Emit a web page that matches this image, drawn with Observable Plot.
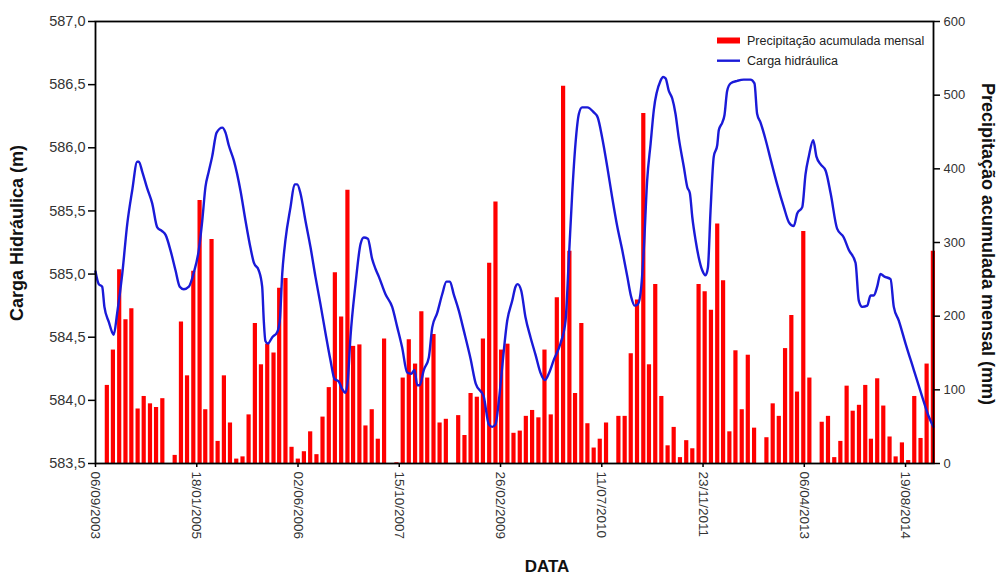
<!DOCTYPE html>
<html>
<head>
<meta charset="utf-8">
<script src="https://cdn.jsdelivr.net/npm/d3@7"></script>
<script src="https://cdn.jsdelivr.net/npm/@observablehq/plot@0.6"></script>
<style>
html,body{margin:0;padding:0;background:#fff;}
#chart{position:relative;width:997px;height:577px;}
#chart svg{position:absolute;left:0;top:0;}
</style>
</head>
<body>
<div id="chart"></div>
<script>
// ---------- DATA ----------
// Monthly accumulated precipitation (mm); first bar plotted at 2003-11-01, one per month
const precipFirstMonth = "2003-11-01";
const precipMm = [
  106,154,263,195,210,74,91,81,76,88,0,11,192,119,261,357,73,304,30,119,
  55,6,9,66,190,134,162,150,238,251,22,6,16,43,12,63,103,259,199,371,
  159,161,51,73,33,169,0,1,116,168,135,206,116,175,55,60,0,65,38,95,
  90,169,272,355,154,162,41,44,64,72,62,154,66,225,512,288,95,190,54,21,
  33,55,0,64,64,149,222,475,134,243,91,24,49,8,31,20,243,233,208,325,
  248,43,153,73,147,48,0,35,81,64,156,201,97,315,116,0,56,64,8,30,
  105,71,79,106,33,115,78,36,9,28,4,91,34,135,288
];

// Hydraulic head (m)
const headDates = [
  "2003-09-06","2003-09-22","2003-10-09","2003-10-20","2003-11-11","2003-11-27","2003-12-05","2003-12-22",
  "2004-01-16","2004-02-10","2004-03-05","2004-03-30","2004-04-07","2004-04-24","2004-05-18","2004-06-12",
  "2004-07-07","2004-07-31","2004-08-17","2004-09-10","2004-10-05","2004-10-26","2004-11-15","2004-12-10",
  "2005-01-03","2005-01-28","2005-02-14","2005-03-02","2005-03-18","2005-04-04","2005-04-26","2005-05-24",
  "2005-06-09","2005-06-25","2005-07-20","2005-08-22","2005-09-16","2005-10-10","2005-10-27","2005-11-20",
  "2005-12-07","2005-12-15","2005-12-23","2006-01-04","2006-01-26","2006-02-19","2006-03-04","2006-03-16",
  "2006-04-01","2006-04-26","2006-05-16","2006-05-29","2006-06-14","2006-07-09","2006-08-03","2006-08-27",
  "2006-09-21","2006-10-16","2006-11-09","2006-11-29","2006-12-20","2007-01-06","2007-01-22","2007-02-03",
  "2007-02-16","2007-03-13","2007-04-07","2007-04-23","2007-05-13","2007-06-03","2007-06-20","2007-07-06",
  "2007-08-08","2007-09-10","2007-10-05","2007-10-29","2007-11-23","2007-12-13","2007-12-29","2008-01-12",
  "2008-01-24","2008-02-13","2008-03-09","2008-03-26","2008-04-19","2008-05-14","2008-06-04","2008-06-21",
  "2008-07-10","2008-08-04","2008-08-29","2008-10-01","2008-10-27","2008-12-05","2008-12-30","2009-01-16",
  "2009-02-01","2009-02-18","2009-03-06","2009-03-31","2009-04-25","2009-05-11","2009-05-21","2009-06-08",
  "2009-06-29","2009-07-24","2009-08-18","2009-09-11","2009-10-03","2009-10-22","2009-11-16","2009-12-19",
  "2010-01-13","2010-01-29","2010-02-15","2010-03-03","2010-03-20","2010-04-05","2010-04-30","2010-06-02",
  "2010-06-21","2010-07-13","2010-08-07","2010-08-31","2010-09-25","2010-10-20","2010-11-14","2010-12-03",
  "2010-12-20","2011-01-05","2011-01-22","2011-02-04","2011-02-20","2011-03-09","2011-03-25","2011-04-27",
  "2011-05-10","2011-05-22","2011-06-07","2011-06-24","2011-07-10","2011-07-26","2011-08-20","2011-09-06",
  "2011-09-19","2011-10-01","2011-10-17","2011-11-02","2011-11-19","2011-12-05","2011-12-17","2011-12-30",
  "2012-01-15","2012-02-01","2012-02-09","2012-02-26","2012-03-08","2012-03-21","2012-04-07","2012-05-10",
  "2012-06-11","2012-07-14","2012-08-03","2012-08-16","2012-09-02","2012-09-26","2012-10-23","2012-11-23",
  "2012-12-26","2013-01-20","2013-02-13","2013-03-02","2013-03-27","2013-04-12","2013-04-28","2013-05-20",
  "2013-06-05","2013-06-25","2013-07-20","2013-08-14","2013-09-15","2013-10-18","2013-11-12","2013-12-15",
  "2013-12-31","2014-01-17","2014-02-11","2014-02-27","2014-03-15","2014-04-01","2014-04-17","2014-05-07",
  "2014-06-06","2014-06-22","2014-07-17","2014-08-19","2014-09-29","2014-11-09","2014-12-12","2015-01-04"
];
const headValues = [
  585.02,584.92,584.90,584.74,584.62,584.54,584.52,584.69,
  585.00,585.40,585.66,585.89,585.89,585.81,585.68,585.56,
  585.37,585.34,585.31,585.19,585.03,584.90,584.88,584.90,
  585.01,585.19,585.42,585.69,585.81,585.93,586.12,586.16,
  586.12,586.02,585.90,585.66,585.42,585.21,585.09,585.03,
  584.90,584.63,584.47,584.45,584.50,584.54,584.63,585.00,
  585.27,585.53,585.71,585.71,585.64,585.42,585.21,584.98,
  584.76,584.53,584.32,584.17,584.15,584.09,584.06,584.16,
  584.50,584.92,585.24,585.29,585.28,585.12,585.04,584.98,
  584.84,584.74,584.58,584.42,584.22,584.21,584.24,584.12,
  584.12,584.24,584.34,584.58,584.69,584.84,584.94,584.94,
  584.84,584.71,584.55,584.33,584.13,584.03,583.81,583.79,
  583.81,584.00,584.26,584.63,584.79,584.90,584.92,584.87,
  584.66,584.50,584.36,584.22,584.16,584.21,584.32,584.45,
  584.63,585.11,585.64,586.03,586.27,586.32,586.32,586.28,
  586.24,586.08,585.85,585.61,585.38,585.19,584.98,584.82,
  584.75,584.76,584.90,585.21,585.74,586.03,586.30,586.53,
  586.56,586.55,586.45,586.39,586.27,586.08,585.85,585.69,
  585.64,585.45,585.27,585.13,585.03,584.99,585.05,585.50,
  585.93,586.02,586.14,586.20,586.26,586.45,586.51,586.53,
  586.54,586.54,586.51,586.27,586.20,586.07,585.90,585.71,
  585.53,585.41,585.38,585.48,585.53,585.79,585.93,586.06,
  585.93,585.87,585.82,585.64,585.36,585.29,585.19,585.09,
  584.79,584.74,584.75,584.83,584.83,584.90,585.00,584.98,
  584.96,584.74,584.63,584.45,584.24,584.03,583.87,583.79
];

const xTickLabels = ["06/09/2003","18/01/2005","02/06/2006","15/10/2007","26/02/2009","11/07/2010","23/11/2011","06/04/2013","19/08/2014"];
const xDomainLabels = ["06/09/2003","04/01/2015"];
const leftTicks = [583.5,584.0,584.5,585.0,585.5,586.0,586.5,587.0];
const rightTicks = [0,100,200,300,400,500,600];
const legendLabels = ["Precipitação acumulada mensal","Carga hidráulica"];
const titles = {left:"Carga Hidráulica (m)", right:"Precipitação acumulada mensal (mm)", x:"DATA"};

// ---------- BUILD ----------
const parseDMY = d3.utcParse("%d/%m/%Y");
const fmtDMY = d3.utcFormat("%d/%m/%Y");
const xTicks = xTickLabels.map(parseDMY);
const xDomain = xDomainLabels.map(parseDMY);
const start = new Date(precipFirstMonth + "T00:00:00Z");
const bars = precipMm.map((mm, i) => ({date: d3.utcMonth.offset(start, i), mm}));
const head = headDates.map((d, i) => ({date: new Date(d + "T00:00:00Z"), value: headValues[i]}));

const FONT = "'Liberation Sans', Arial, Helvetica, sans-serif";
const RED = "#ff0000", BLUE = "#1a1ad8";
const common = {
  width: 997, height: 577,
  marginLeft: 95, marginRight: 64, marginTop: 21, marginBottom: 114
};

const plotBars = Plot.plot({
  ...common,
  style: {background: "transparent", fontFamily: FONT, overflow: "visible"},
  x: {type: "utc", domain: xDomain, axis: null},
  y: {domain: [0, 600], axis: null},
  marks: [
    Plot.ruleX(bars, {x: "date", y1: 0, y2: "mm", stroke: RED, strokeWidth: 4.2}),
    Plot.axisY({anchor: "right", ticks: rightTicks, tickSize: 6, tickPadding: 4,
      fontSize: 13, stroke: "#000", fill: "#333", strokeWidth: 1.5, label: null})
  ]
});

const plotLine = Plot.plot({
  ...common,
  style: {background: "transparent", fontFamily: FONT, overflow: "visible"},
  x: {type: "utc", domain: xDomain, axis: null},
  y: {domain: [583.5, 587.0], axis: null},
  marks: [
    Plot.line(head, {x: "date", y: "value", stroke: BLUE, strokeWidth: 2.4, curve: "monotone-x"}),
    Plot.axisY({anchor: "left", ticks: leftTicks, tickFormat: d => d.toFixed(1).replace(".", ","),
      tickSize: 7, tickPadding: 3, fontSize: 14.5, stroke: "#000", fill: "#333", strokeWidth: 1.5, label: null}),
    Plot.axisX({anchor: "bottom", ticks: xTicks, tickFormat: fmtDMY, tickRotate: 90,
      tickSize: 4, tickPadding: 4, fontSize: 13.5, stroke: "#000", fill: "#333", strokeWidth: 1.5, label: null}),
    Plot.frame({stroke: "#000", strokeWidth: 1.8})
  ]
});

const chart = document.getElementById("chart");
chart.appendChild(plotBars);
chart.appendChild(plotLine);

// titles & legend
const svg = d3.select(plotLine);
const g = svg.append("g").attr("font-family", FONT);
g.append("text").attr("transform", "translate(17,233) rotate(-90)")
  .attr("text-anchor", "middle").attr("dy", "0.35em")
  .attr("font-size", 18).attr("font-weight", "bold").attr("fill", "#111").text(titles.left);
g.append("text").attr("transform", "translate(988,244) rotate(90)")
  .attr("text-anchor", "middle").attr("dy", "0.35em")
  .attr("font-size", 18).attr("font-weight", "bold").attr("fill", "#111").text(titles.right);
g.append("text").attr("x", 547).attr("y", 572)
  .attr("text-anchor", "middle")
  .attr("font-size", 17).attr("font-weight", "bold").attr("fill", "#111").text(titles.x);

const lg = g.append("g");
lg.append("rect").attr("x", 717).attr("y", 37.5).attr("width", 23).attr("height", 6).attr("fill", RED);
lg.append("line").attr("x1", 717).attr("x2", 740).attr("y1", 60.7).attr("y2", 60.7)
  .attr("stroke", BLUE).attr("stroke-width", 2.4);
lg.selectAll("text.lg").data(legendLabels).join("text")
  .attr("x", 747).attr("y", (d, i) => 40.7 + i * 20).attr("dy", "0.35em")
  .attr("text-anchor", "start")
  .attr("font-size", 12.5).attr("fill", "#222").text(d => d);
</script>
</body>
</html>
